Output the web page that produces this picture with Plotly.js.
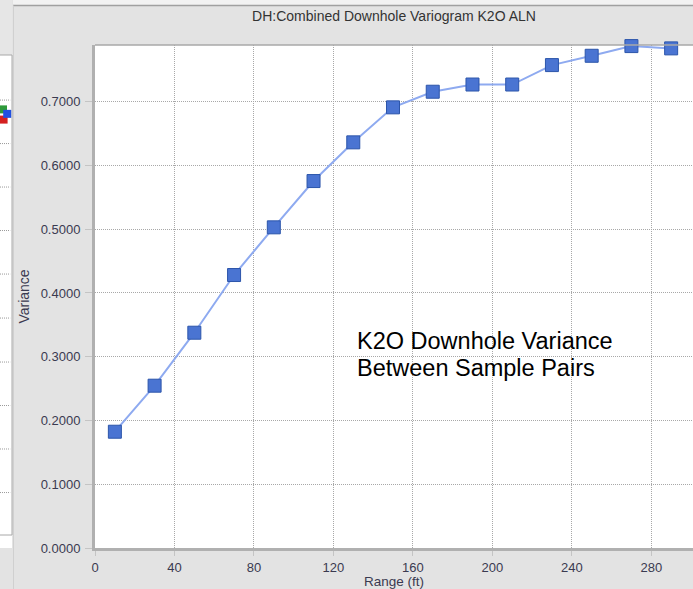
<!DOCTYPE html>
<html>
<head>
<meta charset="utf-8">
<script src="https://cdn.plot.ly/plotly-3.0.1.min.js"></script>
<style>html,body{margin:0;padding:0;background:#e3e3e3;}</style>
</head>
<body>
<div id="chart" style="width:693px;height:589px;"></div>
<script>
// Data
var rangeFt = [10, 30, 50, 70, 90, 110, 130, 150, 170, 190, 210, 230, 250, 270, 290];
var variance = [0.1824, 0.2546, 0.3377, 0.4282, 0.5030, 0.5756, 0.6363, 0.6912, 0.7157, 0.7270, 0.7270, 0.7575, 0.7721, 0.7873, 0.7837];
var xTicks = [0, 40, 80, 120, 160, 200, 240, 280];
var yTicks = [0, 0.1, 0.2, 0.3, 0.4, 0.5, 0.6, 0.7];
var yTickText = ['0.0000', '0.1000', '0.2000', '0.3000', '0.4000', '0.5000', '0.6000', '0.7000'];
var noteLines = ['K2O Downhole Variance', 'Between Sample Pairs'];
// cropped neighbour chart on the left edge (partial markers and grid)
var leftX = [0.25, 0.3, 0.6];
var leftY = [0.688, 0.672, 0.681];
var leftColors = ['#2e9a3a', '#d42020', '#2050e0'];
var leftGrid = [0.7026, 0.6344, 0.5662, 0.4980, 0.4297, 0.3607, 0.2917, 0.2235, 0.1553, 0.0870];

var W = 693, H = 589;
var L = 95, T = 45, B = 548;
function px(x) { return x / W; }
function py(y) { return 1 - y / H; }

var traces = [
  {
    x: rangeFt, y: variance, type: 'scatter', mode: 'lines+markers',
    line: { color: '#8eaaf0', width: 2 },
    marker: { symbol: 'square', size: 13, color: '#4a74d2', line: { color: '#2c55aa', width: 1 } },
    cliponaxis: false, hoverinfo: 'x+y', showlegend: false
  },
  {
    x: leftX, y: leftY, xaxis: 'x2', yaxis: 'y2', type: 'scatter', mode: 'markers',
    marker: { symbol: 'square', size: 8, color: leftColors },
    showlegend: false, hoverinfo: 'skip'
  }
];

var shapes = [
  { type: 'rect', xref: 'paper', yref: 'paper', x0: px(13), x1: 1, y0: py(0), y1: py(5), fillcolor: '#f2f2f2', line: { width: 0 }, layer: 'below' },
  { type: 'line', xref: 'paper', yref: 'paper', x0: px(13), x1: 1, y0: py(5.5), y1: py(5.5), line: { color: '#a0a0a0', width: 1.5 } },
  { type: 'rect', xref: 'paper', yref: 'paper', x0: 0, x1: px(12), y0: py(0), y1: py(55), fillcolor: '#e6e6e6', line: { width: 0 }, layer: 'below' },
  { type: 'rect', xref: 'paper', yref: 'paper', x0: -0.01, x1: px(12), y0: py(535), y1: py(55), fillcolor: '#ffffff', line: { color: '#a8a8a8', width: 1 }, layer: 'below' },
  { type: 'line', xref: 'paper', yref: 'paper', x0: px(13.5), x1: px(13.5), y0: 0, y1: py(5.5), line: { color: '#d0d0d0', width: 1 } },
  { type: 'line', xref: 'paper', yref: 'paper', x0: px(L), x1: 1, y0: py(T), y1: py(T), line: { color: '#a8a8a8', width: 1.5 } }
];
leftGrid.forEach(function (g) {
  shapes.push({ type: 'line', xref: 'x2 domain', yref: 'y2', x0: 0, x1: 0.85, y0: g, y1: g, line: { color: '#9a9a9a', width: 1, dash: '1px,1px' } });
});

var fam = 'Liberation Sans, Arial, sans-serif';
var tickFont = { family: fam, size: 13, color: '#3a3a50' };

var annotations = noteLines.map(function (t, i) {
  return {
    xref: 'x', yref: 'y', x: 131, y: 0.3247 - i * 0.0424, xanchor: 'left', yanchor: 'middle', align: 'left',
    text: t, showarrow: false,
    font: { family: fam, size: 23.5, color: '#000000' }
  };
});

var layout = {
  width: W, height: H,
  margin: { l: 0, r: 0, t: 0, b: 0, pad: 0 },
  paper_bgcolor: '#e3e3e3',
  plot_bgcolor: '#ffffff',
  title: {
    text: 'DH:Combined Downhole Variogram K2O ALN',
    font: { family: fam, size: 14, color: '#333333' },
    x: 394 / W, xanchor: 'center', xref: 'paper',
    y: 1 - 16 / H, yanchor: 'middle', yref: 'container'
  },
  xaxis: {
    domain: [px(L), 1], range: [0, 301],
    tickvals: xTicks, ticktext: xTicks.map(String),
    showgrid: true, gridcolor: '#a8a8a8', griddash: '1px,1px', gridwidth: 1,
    zeroline: false, showline: true, linecolor: '#b0b0b0', linewidth: 3,
    ticks: 'outside', ticklen: 5, tickcolor: '#c4c4c4', tickwidth: 1,
    tickfont: tickFont, automargin: false,
    title: { text: 'Range (ft)', font: { family: fam, size: 13.5, color: '#3a3a50' }, standoff: 2 },
    fixedrange: true
  },
  yaxis: {
    domain: [py(B), py(T)], range: [0, 0.789],
    tickvals: yTicks, ticktext: yTickText,
    showgrid: true, gridcolor: '#a8a8a8', griddash: '1px,1px', gridwidth: 1,
    zeroline: false, showline: true, linecolor: '#b0b0b0', linewidth: 3,
    ticks: 'outside', ticklen: 7, tickcolor: '#c4c4c4', tickwidth: 1,
    tickfont: tickFont, automargin: false, ticklabelstandoff: 2,
    title: { text: 'Variance', font: { family: fam, size: 14, color: '#3a3a50' }, standoff: 8 },
    fixedrange: true
  },
  xaxis2: { domain: [0, px(12)], range: [0, 1], visible: false, fixedrange: true },
  yaxis2: { domain: [py(B), py(T)], range: [0, 0.789], visible: false, fixedrange: true, anchor: 'x2' },
  shapes: shapes,
  annotations: annotations,
  showlegend: false
};

Plotly.newPlot('chart', traces, layout, { displayModeBar: false, staticPlot: true });
</script>
</body>
</html>
